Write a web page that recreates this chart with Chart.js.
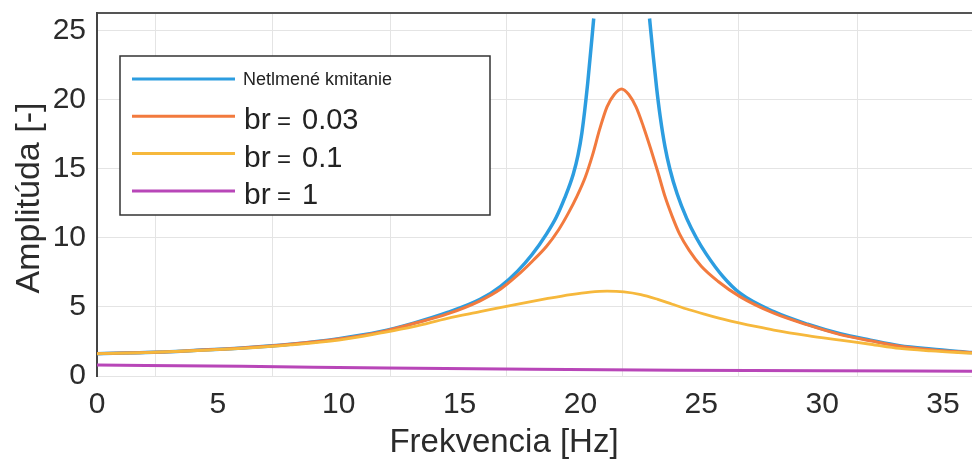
<!DOCTYPE html>
<html>
<head>
<meta charset="utf-8">
<script src="https://cdn.jsdelivr.net/npm/chart.js@4.4.1/dist/chart.umd.min.js"></script>
<style>
    html, body { margin: 0; padding: 0; background: #fff; }
    #wrap { width: 972px; height: 466px; }
</style>
</head>
<body>
<div id="wrap"><canvas id="chart" width="972" height="466"></canvas></div>
<script>
// Hodnoty odčítané z obrázka
const seriesNames = ['Netlmené kmitanie', 'br = 0.03', 'br = 0.1', 'br = 1'];
const seriesColors = ['#2c9de0', '#f27a3e', '#f6b83c', '#b846b8'];

const freqUndamped = [0, 2, 4, 6, 8, 10, 11.7, 13.1, 14.5, 15.85, 16.7, 17.4, 18.0, 18.6, 19.0, 19.35, 19.7, 19.9, 20.06, 20.3, 20.55,
    21.7, 22.86, 23.0, 23.15, 23.3, 23.5, 23.7, 24.0, 24.4, 24.8, 25.2, 25.9, 26.6, 28.0, 29.4, 30.75, 32, 33.2, 34.5, 36.2];
const ampUndamped = [1.62, 1.7, 1.85, 2.03, 2.3, 2.7, 3.2, 3.83, 4.6, 5.55, 6.5, 7.6, 8.8, 10.3, 11.5, 12.9, 14.6, 16.0, 17.6, 21.2, 25.9,
    null, 25.9, 23.4, 20.9, 18.8, 16.6, 15.0, 13.2, 11.4, 10.0, 8.85, 7.2, 6.0, 4.66, 3.75, 3.06, 2.6, 2.2, 1.95, 1.7];

const freqBr003 = [0, 2, 4, 6, 8, 10, 11.7, 13.1, 14.5, 15.85, 16.7, 17.4, 18.0, 18.6, 19.1, 19.5, 19.85, 20.2, 20.5, 20.8, 21.1, 21.4,
    21.7, 22.0, 22.3, 22.6, 22.9, 23.2, 23.5, 23.8, 24.1, 24.5, 25.0, 25.7, 26.6, 28.0, 29.4, 30.75, 32, 33.2, 34.5, 36.2];
const ampBr003 = [1.62, 1.7, 1.85, 2.03, 2.3, 2.68, 3.18, 3.8, 4.5, 5.45, 6.3, 7.3, 8.3, 9.4, 10.6, 11.8, 13.0, 14.4, 16.0, 17.9, 19.5, 20.4,
    20.8, 20.4, 19.5, 18.1, 16.5, 14.8, 13.0, 11.55, 10.3, 9.1, 7.95, 6.85, 5.75, 4.55, 3.7, 3.0, 2.55, 2.15, 1.9, 1.68];

const freqBr01 = [0, 2, 4, 6, 8, 10, 11.7, 13.1, 14.5, 15.85, 17.2, 18.6, 19.6, 20.4, 21.1, 21.8, 22.5, 23.2, 23.8, 24.5, 25.2, 25.9,
    26.6, 27.3, 28.0, 29.4, 30.75, 32, 33.2, 34.5, 36.2];
const ampBr01 = [1.62, 1.7, 1.83, 2.0, 2.25, 2.6, 3.1, 3.57, 4.18, 4.66, 5.14, 5.6, 5.9, 6.08, 6.15, 6.1, 5.9, 5.55, 5.2, 4.8, 4.45, 4.12,
    3.83, 3.57, 3.33, 2.93, 2.6, 2.3, 2.0, 1.82, 1.65];

const freqBr1 = [0, 6, 12, 18, 24, 30, 36.2];
const ampBr1 = [0.8, 0.7, 0.58, 0.48, 0.42, 0.38, 0.35];

const xTicks = [0, 5, 10, 15, 20, 25, 30, 35];
const yTicks = [0, 5, 10, 15, 20, 25];
const xGridLines = [2.4, 7.28, 12.13, 16.93, 21.73, 26.53, 31.46];

const FONT = "'Liberation Sans', Arial, Helvetica, sans-serif";
const TEXT_COLOR = '#2b2b2b';

function pts(xs, ys) {
    return xs.map((x, i) => ({ x: x, y: ys[i] }));
}

function makeDataset(i, xs, ys, width) {
    return {
        label: seriesNames[i],
        data: pts(xs, ys),
        borderColor: seriesColors[i],
        backgroundColor: seriesColors[i],
        borderWidth: width,
        pointRadius: 0,
        fill: false,
        spanGaps: false,
        cubicInterpolationMode: 'monotone',
        order: 4 - i,
        xAxisID: 'x',
        yAxisID: 'y'
    };
}

// nadpisy osí a legenda
const overlay = {
    id: 'overlay',
    afterDraw(chart) {
        const ctx = chart.ctx;
        ctx.save();

        ctx.fillStyle = TEXT_COLOR;
        ctx.textAlign = 'center';
        ctx.textBaseline = 'middle';
        ctx.font = '33px ' + FONT;
        ctx.fillText('Frekvencia [Hz]', 504, 443);
        ctx.save();
        ctx.translate(30, 198);
        ctx.rotate(-Math.PI / 2);
        ctx.font = '34px ' + FONT;
        ctx.fillText('Amplitúda [-]', 0, 0);
        ctx.restore();

        // legenda
        const box = { left: 120, top: 56, width: 370, height: 159 };
        ctx.fillStyle = '#fff';
        ctx.fillRect(box.left, box.top, box.width, box.height);
        ctx.strokeStyle = '#333';
        ctx.lineWidth = 1.5;
        ctx.strokeRect(box.left, box.top, box.width, box.height);

        chart.data.datasets.forEach((ds, i) => {
            const y = 79 + i * 37.3;
            ctx.strokeStyle = ds.borderColor;
            ctx.lineWidth = 3;
            ctx.beginPath();
            ctx.moveTo(132, y);
            ctx.lineTo(235, y);
            ctx.stroke();

            ctx.fillStyle = '#222';
            ctx.textAlign = 'left';
            if (i === 0) {
                ctx.textBaseline = 'middle';
                ctx.font = '18px ' + FONT;
                ctx.fillText(ds.label, 243, y + 1);
            } else {
                const parts = ds.label.split(' = ');
                ctx.textBaseline = 'alphabetic';
                ctx.font = '30px ' + FONT;
                ctx.fillText(parts[0], 244, y + 13);
                ctx.font = '24px ' + FONT;
                ctx.fillText('=', 277, y + 13);
                ctx.font = '29px ' + FONT;
                ctx.fillText(parts[1], 302, y + 13);
            }
        });
        ctx.restore();
    }
};

const chart = new Chart(document.getElementById('chart').getContext('2d'), {
    type: 'line',
    data: {
        datasets: [
            makeDataset(0, freqUndamped, ampUndamped, 3.5),
            makeDataset(1, freqBr003, ampBr003, 3),
            makeDataset(2, freqBr01, ampBr01, 2.8),
            makeDataset(3, freqBr1, ampBr1, 3)
        ]
    },
    options: {
        responsive: false,
        devicePixelRatio: 1,
        animation: false,
        layout: { padding: { top: 13, right: 0, bottom: 0, left: 0 } },
        plugins: {
            legend: { display: false },
            tooltip: { enabled: false }
        },
        scales: {
            x: {
                type: 'linear',
                position: 'bottom',
                min: 0,
                max: 36.2,
                afterBuildTicks: s => { s.ticks = xTicks.map(v => ({ value: v })); },
                afterFit: s => { s.height = 90; s.paddingLeft = 0; s.paddingRight = 0; },
                grid: { display: false },
                border: { display: false },
                ticks: {
                    autoSkip: false,
                    maxRotation: 0,
                    padding: 3,
                    color: TEXT_COLOR,
                    font: { family: FONT, size: 30 }
                }
            },
            xg: {
                type: 'linear',
                position: 'top',
                min: 0,
                max: 36.2,
                afterBuildTicks: s => { s.ticks = xGridLines.map(v => ({ value: v })); },
                afterFit: s => { s.height = 0; s.paddingLeft = 0; s.paddingRight = 0; },
                grid: { color: '#e4e4e4', lineWidth: 1, drawTicks: false },
                border: { display: true, color: '#555', width: 2 },
                ticks: { display: false }
            },
            y: {
                type: 'linear',
                position: 'left',
                min: 0,
                max: 26.3,
                afterBuildTicks: s => { s.ticks = yTicks.map(v => ({ value: v })); },
                afterFit: s => { s.width = 97; s.paddingTop = 0; s.paddingBottom = 0; },
                grid: { color: '#e4e4e4', lineWidth: 1, drawTicks: false },
                border: { display: true, color: '#444', width: 2 },
                ticks: {
                    padding: 11,
                    color: TEXT_COLOR,
                    font: { family: FONT, size: 30 }
                }
            }
        }
    },
    plugins: [overlay]
});
</script>
</body>
</html>
